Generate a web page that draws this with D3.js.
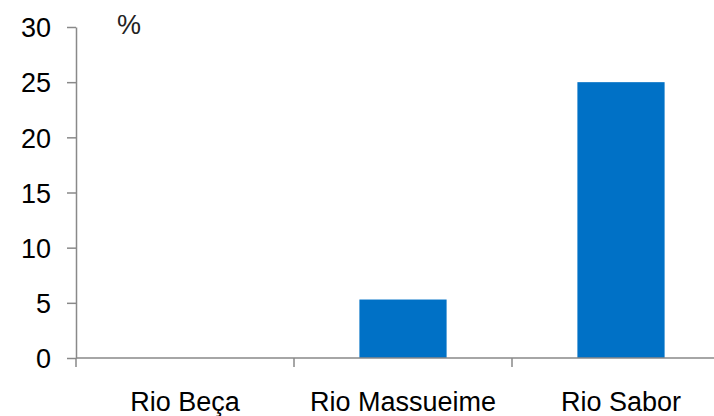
<!DOCTYPE html>
<html>
<head>
<meta charset="utf-8">
<script src="https://cdn.jsdelivr.net/npm/d3@7"></script>
<style>
  html, body { margin: 0; padding: 0; background: #fff; }
  svg { display: block; }
  text { font-family: "Liberation Sans", Arial, sans-serif; }
</style>
</head>
<body>
<script>
// Share of each river (%)
const categories = ["Rio Beça", "Rio Massueime", "Rio Sabor"];
const values = [0, 5.3, 25];
const yTicks = [0, 5, 10, 15, 20, 25, 30];
const unitLabel = "%";

const width = 714, height = 416;
const margin = { top: 27, right: -16, bottom: 58, left: 76 };
const fontSize = 27;

const svg = d3.select("body").append("svg")
  .attr("width", width)
  .attr("height", height);

const x = d3.scaleBand()
  .domain(categories)
  .range([margin.left, width - margin.right])
  .paddingInner(0.6)
  .paddingOuter(0.3);

const bandEdge = d3.scaleBand()
  .domain(categories)
  .range([margin.left, width - margin.right]);

const y = d3.scaleLinear()
  .domain([0, 30])
  .range([height - margin.bottom, margin.top]);

const axisColor = "#898989";

// Bars
svg.append("g")
  .selectAll("rect")
  .data(values)
  .join("rect")
  .attr("x", (d, i) => x(categories[i]))
  .attr("width", x.bandwidth())
  .attr("y", d => y(d))
  .attr("height", d => y(0) - y(d))
  .attr("fill", "#0071C6");

// Y axis
const yAxis = svg.append("g")
  .attr("transform", `translate(${margin.left},0)`)
  .call(d3.axisLeft(y).tickValues(yTicks).tickSize(9).tickPadding(16).tickSizeOuter(0));
yAxis.select(".domain").attr("stroke", axisColor).attr("stroke-width", 1.5);
yAxis.selectAll(".tick line").attr("stroke", axisColor).attr("stroke-width", 1.5);
yAxis.selectAll(".tick text")
  .attr("font-size", fontSize)
  .attr("dy", "0.36em")
  .attr("fill", "#000")
  .attr("font-family", "Liberation Sans, Arial, sans-serif");

// X axis line with tick marks at category boundaries
const xAxisG = svg.append("g").attr("transform", `translate(0,${y(0)})`);
xAxisG.append("line")
  .attr("x1", margin.left)
  .attr("x2", width)
  .attr("stroke", axisColor)
  .attr("stroke-width", 1.5);
xAxisG.selectAll("line.sep")
  .data(categories)
  .join("line")
  .attr("class", "sep")
  .attr("x1", d => bandEdge(d))
  .attr("x2", d => bandEdge(d))
  .attr("y1", 0)
  .attr("y2", 9)
  .attr("stroke", axisColor)
  .attr("stroke-width", 1.5);

// Category labels
xAxisG.selectAll("text")
  .data(categories)
  .join("text")
  .attr("x", d => bandEdge(d) + bandEdge.bandwidth() / 2)
  .attr("y", 53)
  .attr("text-anchor", "middle")
  .attr("font-size", fontSize)
  .attr("fill", "#000")
  .text(d => d);

// Unit label
svg.append("text")
  .attr("x", 117)
  .attr("y", 34)
  .attr("font-size", fontSize)
  .attr("fill", "#222")
  .text(unitLabel);
</script>
</body>
</html>
